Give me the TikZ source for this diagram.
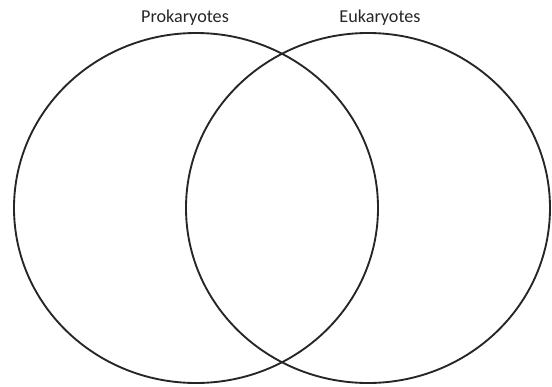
\documentclass[tikz,border=0pt]{standalone}
\usepackage{fontspec}
\setmainfont{Carlito}
\usepackage{tikz}
\usetikzlibrary{positioning}

\begin{document}
\begin{tikzpicture}[x=0.03cm,y=-0.03cm]
    \useasboundingbox (0,0) rectangle (552,387);
    \tikzset{setring/.style={line width=1.6pt,black!85}, setlabel/.style={font=\fontsize{15.5}{18}\selectfont,text=black!85}}
    \draw[setring] (196,208) ellipse [x radius=182,y radius=175];
    \draw[setring] (368,208) ellipse [x radius=182,y radius=175];
    \node[setlabel] (prok) at (185,18) {Prokaryotes};
    \node[setlabel] (euk) at (380,18) {Eukaryotes};
  \end{tikzpicture}
\end{document}
